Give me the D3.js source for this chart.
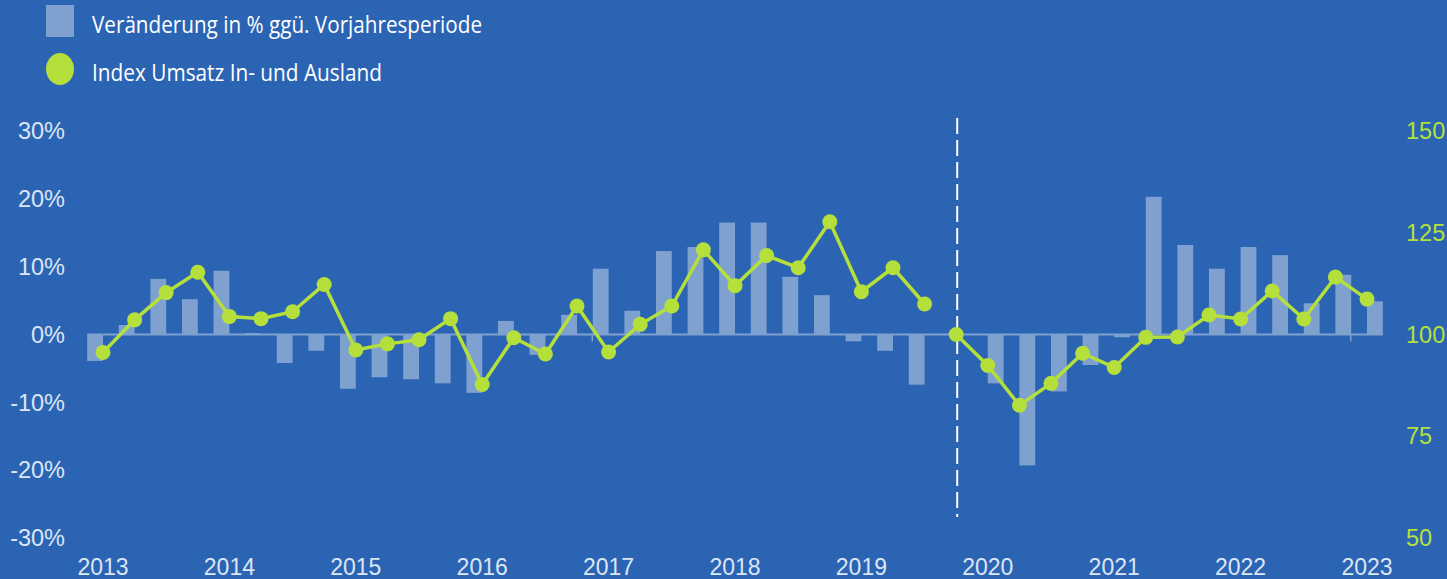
<!DOCTYPE html>
<html>
<head>
<meta charset="utf-8">
<script src="https://d3js.org/d3.v7.min.js"></script>
<style>
  html, body { margin: 0; padding: 0; background: #2c64b4; }
  svg { display: block; }
</style>
</head>
<body>
<div id="chart"></div>
<script>
// quarters 2013 Q1 .. 2023 Q1
var years = ["2013","2014","2015","2016","2017","2018","2019","2020","2021","2022","2023"];
var quarters = [];
years.forEach(function(y){
  ["Q1","Q2","Q3","Q4"].forEach(function(q){ quarters.push(y + " " + q); });
});
quarters = quarters.slice(0, 41);

// Veränderung in % ggü. Vorjahresperiode (old base, left half of slot)
var changeOld = [-3.9, 1.4, 8.2, 5.2, 9.4, 0.2, -4.2, -2.4, -8.0, -6.3, -6.6, -7.2, -8.6,
                 2.0, -3.0, 2.9, 9.7, 3.5, 12.3, 12.9, 16.5, 16.5, 8.5, 5.8, -1.0, -2.4, -7.4];
// new base from 2020 (right half of slot)
var changeNew = [null, -7.2, -19.3, -8.4, -4.5, -0.4, 20.3, 13.2, 9.7, 12.9, 11.7, 4.6, 8.8, 4.9];

// Index Umsatz In- und Ausland
var indexOld = [95.6, 103.6, 110.3, 115.3, 104.4, 103.9, 105.6, 112.3, 96.2, 97.7, 98.7, 103.9, 87.7,
                99.2, 95.2, 107.0, 95.7, 102.5, 107.0, 120.8, 112.0, 119.4, 116.4, 127.7, 110.5, 116.4, 107.5];
var indexNew = [100, 92.4, 82.6, 88.0, 95.4, 91.9, 99.3, 99.4, 104.8, 103.8, 110.7, 103.8, 114.1, 108.7];

var leftTicks = [0.3, 0.2, 0.1, 0, -0.1, -0.2, -0.3];
var rightTicks = [150, 125, 100, 75, 50];
var tickQuarters = ["2017 Q1", "2023 Q1"];
var breakQuarter = "2019 Q4";

var legendLabels = ["Veränderung in % ggü. Vorjahresperiode", "Index Umsatz In- und Ausland"];

var width = 1447, height = 579;
var bg = "#2c64b4", barColor = "#7fa1d0", lineColor = "#b5e03b", textColor = "#dce6f4";

var svg = d3.select("#chart").append("svg")
  .attr("width", width)
  .attr("height", height)
  .style("background", bg);

var x = d3.scaleBand().domain(quarters).range([87.2, 1382.8]).paddingInner(0).paddingOuter(0);
var bw = x.bandwidth();
var yL = d3.scaleLinear().domain([-0.3, 0.3]).range([538, 131]);
var yR = d3.scaleLinear().domain([50, 150]).range([538, 131]);

function cx(q){ return x(q) + bw / 2; }

var oldData = changeOld.map(function(v, i){ return {q: quarters[i], v: v}; });
var newStart = quarters.indexOf(breakQuarter);
var newData = changeNew.map(function(v, i){ return {q: quarters[newStart + i], v: v}; })
  .filter(function(d){ return d.v != null; });

// bars
var gBars = svg.append("g");
gBars.selectAll(".barOld").data(oldData).enter().append("rect")
  .attr("class", "barOld")
  .attr("x", function(d){ return x(d.q); })
  .attr("width", bw / 2)
  .attr("y", function(d){ return yL(Math.max(0, d.v / 100)); })
  .attr("height", function(d){ return Math.abs(yL(d.v / 100) - yL(0)); })
  .style("fill", barColor);

gBars.selectAll(".barNew").data(newData).enter().append("rect")
  .attr("class", "barNew")
  .attr("x", function(d){ return cx(d.q); })
  .attr("width", bw / 2)
  .attr("y", function(d){ return yL(Math.max(0, d.v / 100)); })
  .attr("height", function(d){ return Math.abs(yL(d.v / 100) - yL(0)); })
  .style("fill", barColor);

// zero line + the two tick marks
svg.append("line")
  .attr("x1", x.range()[0]).attr("x2", x.range()[1])
  .attr("y1", yL(0)).attr("y2", yL(0))
  .attr("stroke", barColor).attr("stroke-width", 2);

svg.selectAll(".xtick").data(tickQuarters).enter().append("line")
  .attr("class", "xtick")
  .attr("x1", function(d){ return x(d) - 0.5; })
  .attr("x2", function(d){ return x(d) - 0.5; })
  .attr("y1", yL(0)).attr("y2", yL(0) + 7)
  .attr("stroke", barColor).attr("stroke-width", 1.5);

// left axis labels
svg.selectAll(".ltick").data(leftTicks).enter().append("text")
  .attr("class", "ltick")
  .attr("x", 65)
  .attr("y", function(d){ return yL(d); })
  .attr("dy", "0.35em")
  .attr("text-anchor", "end")
  .style("font-family", "'Liberation Sans', Arial, sans-serif")
  .style("font-size", "23.5px")
  .style("fill", textColor)
  .text(function(d){ return Math.round(d * 100) + "%"; });

// right axis labels
svg.selectAll(".rtick").data(rightTicks).enter().append("text")
  .attr("class", "rtick")
  .attr("x", 1406)
  .attr("y", function(d){ return yR(d); })
  .attr("dy", "0.35em")
  .style("font-family", "'Liberation Sans', Arial, sans-serif")
  .style("font-size", "23.5px")
  .style("fill", lineColor)
  .text(function(d){ return d; });

// year labels
svg.selectAll(".year").data(years).enter().append("text")
  .attr("class", "year")
  .attr("x", function(d){ return cx(d + " Q1"); })
  .attr("y", 575)
  .attr("text-anchor", "middle")
  .style("font-family", "'Liberation Sans', Arial, sans-serif")
  .style("font-size", "23px")
  .style("fill", textColor)
  .text(function(d){ return d; });

// dashed break line
svg.append("line")
  .attr("x1", cx(breakQuarter) + 1).attr("x2", cx(breakQuarter) + 1)
  .attr("y1", 118).attr("y2", 517)
  .attr("stroke", "#ffffff").attr("stroke-width", 2)
  .attr("stroke-dasharray", "16,6");

// index lines
var line = d3.line()
  .x(function(d){ return cx(d.q); })
  .y(function(d){ return yR(d.v); });

var idxOld = indexOld.map(function(v, i){ return {q: quarters[i], v: v}; });
var idxNew = indexNew.map(function(v, i){ return {q: quarters[newStart + i], v: v}; });

[idxOld, idxNew].forEach(function(series){
  svg.append("path")
    .datum(series)
    .attr("d", line)
    .attr("fill", "none")
    .attr("stroke", lineColor)
    .attr("stroke-width", 3.5);

  svg.append("g").selectAll("circle").data(series).enter().append("circle")
    .attr("cx", function(d){ return cx(d.q); })
    .attr("cy", function(d){ return yR(d.v); })
    .attr("r", 7.5)
    .style("fill", lineColor);
});

// legend
var legend = svg.append("g");
legend.append("rect")
  .attr("x", 46).attr("y", 5).attr("width", 28).attr("height", 32)
  .style("fill", barColor);
legend.append("ellipse")
  .attr("cx", 60).attr("cy", 69).attr("rx", 14).attr("ry", 16)
  .style("fill", lineColor);

legend.selectAll(".ltext").data(legendLabels).enter().append("text")
  .attr("class", "ltext")
  .attr("x", 92)
  .attr("y", function(d, i){ return i == 0 ? 32.5 : 81; })
  .attr("textLength", function(d, i){ return i == 0 ? 390 : 290; })
  .attr("lengthAdjust", "spacingAndGlyphs")
  .style("font-family", "'Open Sans', sans-serif")
  .style("font-size", "24px")
  .style("fill", "#ffffff")
  .text(function(d){ return d; });
</script>
</body>
</html>
